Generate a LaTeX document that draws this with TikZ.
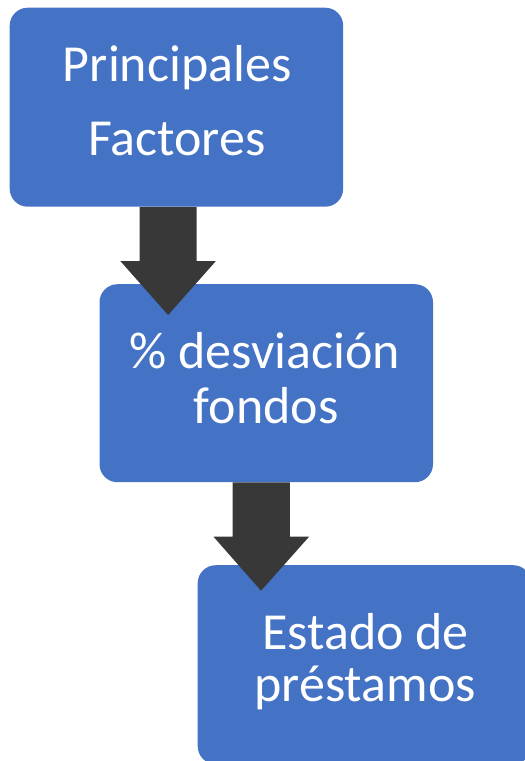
\documentclass[tikz,border=0pt]{standalone}
\usepackage{fontspec}
\setmainfont{Carlito}
\usetikzlibrary{calc}
\definecolor{boxblue}{HTML}{4472C4}
\definecolor{arrowgray}{HTML}{383838}
\begin{document}
\begin{tikzpicture}[x=1pt,y=-1pt,
  boxstyle/.style={fill=boxblue, rounded corners=18pt, minimum width=333.5pt,
    minimum height=199pt, inner sep=0pt, anchor=north west},
  txt/.style={text=white, font=\fontsize{52}{60}\selectfont, anchor=base, inner sep=0pt},
  blockarrow/.style={fill=arrowgray}]
\useasboundingbox (0,0) rectangle (525,761);
\begin{scope}
\clip (0,0) rectangle (525,761);
% boxes
\node[boxstyle] (b1) at (9.5,7.5) {};
\node[boxstyle, minimum height=198pt] (b2) at (99.3,284) {};
\node[boxstyle] (b3) at (197.5,565) {};
% texts
\node[txt] (t1a) at ($(b1.north)+(0.8,74.2)$) {Principales};
\node[txt] (t1b) at ($(b1.north)+(0.4,147.5)$) {Factores};
\node[txt] (t2a) at ($(b2.north)+(-1.3,84.3)$) {\% desviación};
\node[txt] (t2b) at ($(b2.north)+(0,139.3)$) {fondos};
\node[txt] (t3a) at ($(b3.north)+(1.2,84.3)$) {Estado de};
\node[txt] (t3b) at ($(b3.north)+(0.7,136.7)$) {préstamos};
% arrow end points
\coordinate (a1top) at ($(b1.south west)+(158.6,0)$);
\coordinate (a1tip) at ($(b2.north west)+(68.8,31)$);
\coordinate (a2top) at ($(b2.south west)+(162,0)$);
\coordinate (a2tip) at ($(b3.north west)+(63.5,25.7)$);
% block arrows
\foreach \s/\e in {a1top/a1tip, a2top/a2tip}{
  \fill[blockarrow] let \p1=(\s), \p2=(\e) in
    (\x1-28.6pt,\y1) -- (\x1+28.6pt,\y1) -- (\x1+28.6pt,\y2+54pt) --
    (\x1+47.8pt,\y2+54pt) -- (\x2,\y2) -- (\x1-47.8pt,\y2+54pt) --
    (\x1-28.6pt,\y2+54pt) -- cycle;
}
\end{scope}
\end{tikzpicture}
\end{document}
